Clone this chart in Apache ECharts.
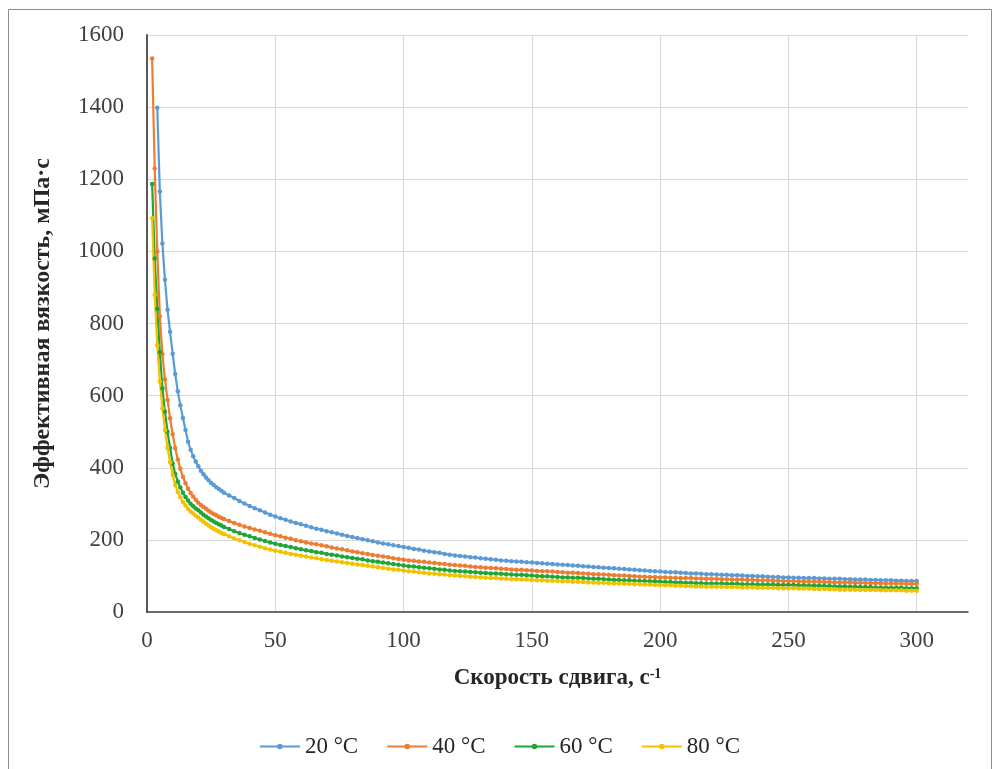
<!DOCTYPE html>
<html>
<head>
<meta charset="utf-8">
<script src="https://cdn.jsdelivr.net/npm/echarts@6/dist/echarts.min.js"></script>
<style>
  html, body { margin: 0; padding: 0; background: #fff; }
  #chart { width: 999px; height: 769px; }
</style>
</head>
<body>
<div id="chart"></div>
<script>
// скорость сдвига, с-1
var shearRate = [2, 3, 4, 5, 6, 7, 8, 9, 10, 11, 12, 13, 14, 15, 16, 17, 18, 19, 20, 21, 22, 23, 24, 25, 26, 27, 28, 29, 30,
  32, 34, 36, 38, 40, 42, 44, 46, 48, 50, 52, 54, 56, 58, 60, 62, 64, 66, 68, 70, 72, 74, 76, 78, 80,
  82, 84, 86, 88, 90, 92, 94, 96, 98, 100, 102, 104, 106, 108, 110, 112, 114, 116, 118, 120, 122, 124, 126, 128, 130,
  132, 134, 136, 138, 140, 142, 144, 146, 148, 150, 152, 154, 156, 158, 160, 162, 164, 166, 168, 170, 172, 174, 176, 178, 180,
  182, 184, 186, 188, 190, 192, 194, 196, 198, 200, 202, 204, 206, 208, 210, 212, 214, 216, 218, 220, 222, 224, 226, 228, 230,
  232, 234, 236, 238, 240, 242, 244, 246, 248, 250, 252, 254, 256, 258, 260, 262, 264, 266, 268, 270, 272, 274, 276, 278, 280,
  282, 284, 286, 288, 290, 292, 294, 296, 298, 300];

var visc20 = [null, null, 1398, 1166, 1022, 921, 838, 777, 716, 660, 612, 573, 538, 505, 472, 450, 432, 417, 404, 392, 382, 373, 365, 358, 352, 346, 341, 336, 331,
  323, 316, 308, 301, 294, 288, 282, 276, 270, 265, 260, 256, 251, 247, 243, 239, 235, 231, 228, 224, 221, 218, 214, 211, 208,
  205, 202, 199, 196, 193, 190, 188, 185, 183, 180, 178, 175, 173, 170, 168, 166, 164, 161, 159, 157, 155, 154, 152, 151, 149,
  148, 146, 145, 143, 142, 141, 140, 139, 138, 137, 136, 135, 134, 133, 132, 131, 130, 129, 128, 127, 126, 125, 124, 123, 122,
  121, 120, 119, 118, 117, 116, 115, 114, 113, 112, 111, 110, 110, 109, 108, 107, 107, 106, 105, 105, 104, 103, 103, 102, 102,
  101, 100, 100, 99, 99, 98, 97, 97, 96, 96, 95, 95, 94, 94, 94, 93, 93, 92, 92, 92, 91, 91, 90, 90, 90,
  89, 89, 88, 88, 88, 87, 87, 86, 86, 86];

var visc40 = [1535, 1230, 1000, 820, 715, 645, 588, 537, 493, 455, 423, 397, 375, 357, 342, 330, 320, 311, 303, 297, 291, 286, 281, 276, 272, 268, 264, 261, 258,
  252, 247, 242, 237, 233, 229, 225, 221, 217, 213, 210, 206, 203, 199, 196, 193, 190, 188, 185, 182, 179, 176, 174, 171, 168,
  166, 163, 161, 158, 156, 154, 152, 149, 147, 145, 143, 142, 140, 139, 137, 136, 134, 133, 131, 130, 129, 128, 126, 125, 124,
  123, 122, 121, 120, 119, 118, 117, 117, 116, 115, 114, 113, 113, 112, 111, 110, 109, 109, 108, 107, 106, 105, 105, 104, 103,
  102, 101, 101, 100, 99, 98, 98, 97, 97, 96, 96, 95, 95, 94, 94, 94, 93, 93, 92, 92, 92, 91, 91, 90, 90,
  90, 89, 89, 88, 88, 88, 87, 87, 86, 86, 86, 85, 85, 84, 84, 84, 83, 83, 82, 82, 82, 82, 81, 81, 81,
  80, 80, 80, 79, 79, 79, 79, 78, 78, 78];

var visc60 = [1187, 980, 840, 720, 620, 555, 500, 455, 412, 383, 362, 345, 331, 319, 309, 300, 293, 287, 282, 276, 270, 265, 260, 255, 251, 247, 243, 240, 236,
  230, 224, 219, 214, 210, 205, 201, 197, 193, 189, 186, 183, 180, 177, 174, 171, 169, 166, 164, 161, 159, 157, 154, 152, 150,
  148, 146, 143, 141, 139, 137, 135, 133, 131, 129, 127, 126, 124, 123, 121, 120, 118, 117, 115, 114, 113, 112, 111, 110, 109,
  108, 107, 107, 106, 105, 104, 103, 103, 102, 101, 100, 99, 99, 98, 97, 96, 96, 95, 95, 94, 93, 92, 92, 91, 90,
  89, 89, 88, 88, 87, 86, 86, 85, 85, 84, 83, 83, 82, 82, 81, 81, 80, 80, 79, 79, 79, 79, 78, 78, 78,
  77, 77, 77, 76, 76, 76, 76, 75, 75, 75, 75, 74, 74, 73, 73, 73, 72, 72, 71, 71, 71, 70, 70, 69, 69,
  69, 68, 68, 67, 67, 67, 67, 66, 66, 66];

var visc80 = [1092, 880, 740, 640, 565, 505, 455, 415, 380, 352, 333, 318, 305, 295, 286, 279, 273, 267, 262, 256, 250, 245, 240, 235, 231, 227, 223, 219, 216,
  210, 204, 199, 194, 189, 185, 181, 177, 173, 170, 167, 164, 161, 159, 156, 154, 151, 149, 146, 144, 142, 140, 138, 136, 134,
  132, 130, 128, 126, 124, 122, 120, 118, 117, 115, 113, 112, 110, 109, 107, 106, 105, 104, 102, 101, 100, 99, 98, 97, 96,
  95, 94, 94, 93, 92, 91, 91, 90, 90, 89, 88, 88, 87, 87, 86, 85, 85, 84, 84, 83, 82, 82, 81, 81, 80,
  79, 79, 78, 78, 77, 77, 76, 76, 75, 75, 74, 74, 73, 73, 72, 72, 71, 71, 70, 70, 70, 70, 69, 69, 69,
  68, 68, 68, 67, 67, 67, 67, 66, 66, 66, 66, 65, 65, 65, 64, 64, 64, 63, 63, 62, 62, 62, 62, 61, 61,
  61, 61, 60, 60, 60, 60, 60, 59, 59, 59];

var seriesNames = ['20 °C', '40 °C', '60 °C', '80 °C'];
var seriesColors = ['#5B9BD5', '#ED7D31', '#1FA538', '#F2C200'];
var seriesValues = [visc20, visc40, visc60, visc80];

var serif = '"Liberation Serif", "Times New Roman", serif';

function pairs(vals) {
  var out = [];
  for (var i = 0; i < shearRate.length; i++) {
    if (vals[i] != null) out.push([shearRate[i], vals[i]]);
  }
  return out;
}

var chart = echarts.init(document.getElementById('chart'), null, { renderer: 'canvas' });

var series = [];
for (var k = 0; k < seriesNames.length; k++) {
  series.push({
    name: seriesNames[k],
    type: 'line',
    data: pairs(seriesValues[k]),
    symbol: 'circle',
    symbolSize: 4.5,
    showAllSymbol: true,
    lineStyle: { width: 2.2, color: seriesColors[k] },
    itemStyle: { color: seriesColors[k] },
    emphasis: { disabled: true }
  });
}

var option = {
  animation: false,
  backgroundColor: '#fff',
  graphic: [{
    type: 'rect',
    shape: { x: 8.5, y: 9.5, width: 983, height: 800 },
    style: { fill: 'none', stroke: '#8c8c8c', lineWidth: 1 },
    silent: true
  }],
  grid: { left: 147, right: 31, top: 35, bottom: 157 },
  legend: {
    data: seriesNames,
    left: 'center',
    top: 730,
    itemWidth: 40,
    itemHeight: 7,
    itemGap: 28,
    textStyle: { fontFamily: serif, fontSize: 23, color: '#262626' }
  },
  xAxis: {
    type: 'value',
    min: 0,
    max: 320,
    interval: 50,
    name: '{a|Скорость сдвига, с}{s|-1}',
    nameLocation: 'middle',
    nameGap: 55,
    nameTextStyle: {
      rich: {
        a: { fontFamily: serif, fontSize: 23, fontWeight: 'bold', color: '#262626' },
        s: { fontFamily: serif, fontSize: 14, fontWeight: 'bold', color: '#262626', verticalAlign: 'top' }
      }
    },
    axisLine: { lineStyle: { color: '#404040', width: 1.5 } },
    axisTick: { show: false },
    axisLabel: { showMaxLabel: false, margin: 17, fontFamily: serif, fontSize: 23, color: '#404040' },
    splitLine: { show: true, showMaxLine: false, lineStyle: { color: '#d9d9d9', width: 1 } }
  },
  yAxis: {
    type: 'value',
    min: 0,
    max: 1600,
    interval: 200,
    name: 'Эффективная вязкость, мПа·с',
    nameLocation: 'middle',
    nameGap: 92,
    nameRotate: 90,
    nameTextStyle: { fontFamily: serif, fontSize: 24, fontWeight: 'bold', color: '#262626' },
    axisLine: { show: true, lineStyle: { color: '#595959', width: 2 } },
    axisTick: { show: false },
    axisLabel: {
      margin: 23, fontFamily: serif, fontSize: 23, color: '#404040',
      formatter: function (v) { return String(v); }
    },
    splitLine: { show: true, lineStyle: { color: '#d9d9d9', width: 1 } }
  },
  series: series
};

chart.setOption(option);
</script>
</body>
</html>
